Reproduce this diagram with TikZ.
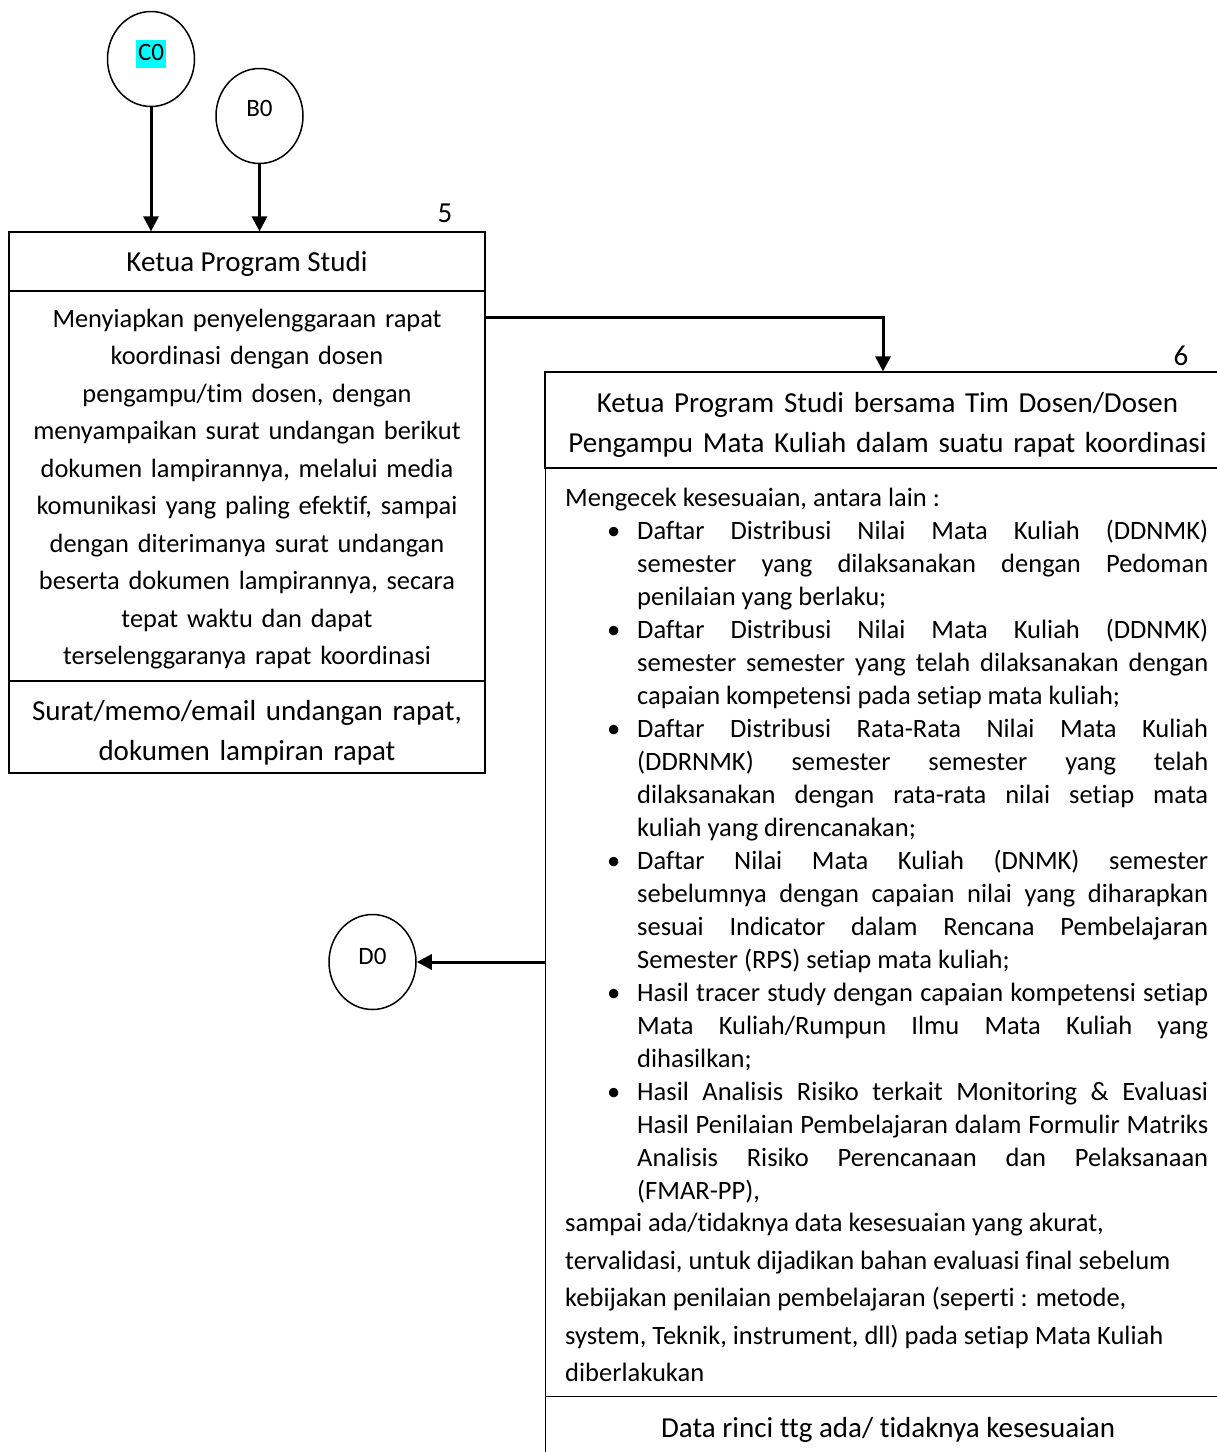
\documentclass[tikz,border=0pt]{standalone}
\usepackage{fontspec}
\setmainfont{Carlito}[Ligatures=NoCommon]
\usetikzlibrary{arrows.meta,shapes.geometric}

\definecolor{sorot}{RGB}{0,255,255}
\newcommand\judulfont{\fontsize{29}{40}\selectfont}
\newcommand\isifont{\fontsize{26.4}{37.5}\selectfont}
\newcommand\cekfont{\fontsize{26.5}{33}\selectfont\tolerance=10000\hyphenpenalty=10000\exhyphenpenalty=10000}
\newcommand\hl[1]{{\setlength\fboxsep{2pt}\colorbox{sorot}{\rule[-6pt]{0pt}{24pt}#1}}}
\newenvironment{cekitems}{\begin{list}{\textbullet\hfill}{\setlength\leftmargin{72pt}\setlength\labelwidth{30pt}\setlength\labelsep{0pt}\setlength\topsep{0pt}\setlength\partopsep{0pt}\setlength\itemsep{0pt}\setlength\parsep{0pt}}}{\end{list}}

\begin{document}
\begin{tikzpicture}[x=1pt,y=-1pt,
    term/.style={draw,ellipse,line width=1.5pt,minimum width=87pt,minimum height=95pt,inner sep=0pt,
        font=\fontsize{25}{30}\selectfont,text height=16pt,text depth=14pt},
    kotak/.style={draw,line width=1.2pt,inner sep=0pt},
    flow/.style={line width=3pt,-{Triangle[width=15pt,length=15pt]}}]
    \useasboundingbox (0,0) rectangle (1217,1452);

    % penghubung
    \node[term] (c0) at (151,59) {\hl{C0}};
    \node[term,text depth=16pt] (b0) at (259.5,116) {B0};
    \node[term,text depth=12pt] (d0) at (372.5,962) {D0};

    % langkah 5
    \node[font=\judulfont] (no5) at (445,213) {5};
    \node[kotak,minimum width=476pt,minimum height=59pt] (judul5) at (247,261.5) {};
    \node[font=\judulfont] (tjudul5) at ([yshift=-2pt]judul5.center) {Ketua Program Studi};
    \node[kotak,minimum width=476pt,minimum height=390pt] (isi5) at (247,486) {};
    \node[text width=470pt,align=center,font=\isifont] (tisi5) at ([yshift=-3pt]isi5.center)
        {Menyiapkan penyelenggaraan rapat\\ koordinasi dengan dosen\\ pengampu/tim dosen, dengan\\
         menyampaikan surat undangan berikut\\ dokumen lampirannya, melalui media\\
         komunikasi yang paling efektif, sampai\\ dengan diterimanya surat undangan\\
         beserta dokumen lampirannya, secara\\ tepat waktu dan dapat\\ terselenggaranya rapat koordinasi};
    \node[kotak,minimum width=476pt,minimum height=92pt] (keluaran5) at (247,727) {};
    \node[text width=470pt,align=center,font=\judulfont] (tkeluaran5) at ([yshift=-6pt]keluaran5.center)
        {Surat/memo/email undangan rapat,\\ dokumen lampiran rapat};

    % langkah 6
    \node[font=\judulfont] (no6) at (1181,356) {6};
    \node[kotak,minimum width=685pt,minimum height=96pt] (judul6) at (887.5,420) {};
    \node[text width=670pt,align=center,font=\judulfont] (tjudul6) at ([yshift=-5pt]judul6.center)
        {Ketua Program Studi bersama Tim Dosen/Dosen\\ Pengampu Mata Kuliah dalam suatu rapat koordinasi};
    \node[kotak,anchor=north west,minimum width=685pt,minimum height=928pt] (isi6) at (545,468) {};
    \node[anchor=north west,text width=643pt,inner sep=0pt,align=justify,font=\cekfont] (cek6) at ([shift={(20pt,-20pt)}]isi6.north west)
        {Mengecek kesesuaian, antara lain :
        \begin{cekitems}
        \item Daftar Distribusi Nilai Mata Kuliah (DDNMK)\linebreak semester yang dilaksanakan dengan Pedoman\linebreak penilaian yang berlaku;
        \item Daftar Distribusi Nilai Mata Kuliah (DDNMK)\linebreak semester semester yang telah dilaksanakan dengan\linebreak capaian kompetensi pada setiap mata kuliah;
        \item Daftar Distribusi Rata-Rata Nilai Mata Kuliah\linebreak (DDRNMK) semester semester yang telah\linebreak dilaksanakan dengan rata-rata nilai setiap mata\linebreak kuliah yang direncanakan;
        \item Daftar Nilai Mata Kuliah (DNMK) semester\linebreak sebelumnya dengan capaian nilai yang diharapkan\linebreak sesuai Indicator dalam Rencana Pembelajaran\linebreak Semester (RPS) setiap mata kuliah;
        \item Hasil tracer study dengan capaian kompetensi setiap\linebreak Mata Kuliah/Rumpun Ilmu Mata Kuliah yang\linebreak dihasilkan;
        \item Hasil Analisis Risiko terkait Monitoring \& Evaluasi\linebreak Hasil Penilaian Pembelajaran dalam Formulir Matriks\linebreak Analisis Risiko Perencanaan dan Pelaksanaan\linebreak (FMAR-PP),
        \end{cekitems}
        \vspace{-5.5pt}
        {\fontsize{26.5}{37.5}\selectfont\raggedright sampai ada/tidaknya data kesesuaian yang akurat,\\
        tervalidasi, untuk dijadikan bahan evaluasi final sebelum\\
        kebijakan penilaian pembelajaran (seperti : metode,\\
        system, Teknik, instrument, dll) pada setiap Mata Kuliah\\
        diberlakukan\par}};
    \node[kotak,anchor=north west,minimum width=685pt,minimum height=70pt] (keluaran6) at (545,1396) {};
    \node[font=\judulfont] (tkeluaran6) at ([yshift=2pt]keluaran6.center) {Data rinci ttg ada/ tidaknya kesesuaian};

    % panah
    \draw[flow] (c0) -- (c0 |- judul5.north);
    \draw[flow] (b0) -- (b0 |- judul5.north);
    \draw[flow] ([yshift=-27pt]isi5.north east) -| ([xshift=-4.5pt]judul6.north);
    \draw[flow] (isi6.west |- d0) -- (d0);
\end{tikzpicture}
\end{document}
